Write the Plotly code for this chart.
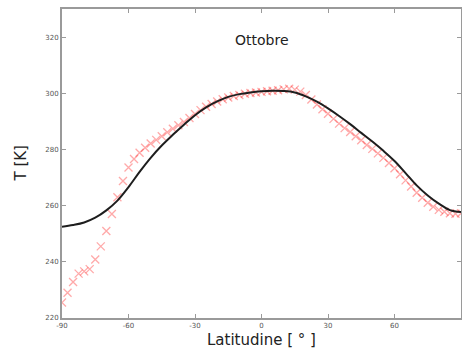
import plotly.graph_objects as go

# Model (black line), 5° spacing
lat_model = [-90, -85, -80, -75, -70, -65, -60, -55, -50, -45, -40, -35, -30, -25, -20, -15, -10, -5,
             0, 5, 10, 15, 20, 25, 30, 35, 40, 45, 50, 55, 60, 65, 70, 75, 80, 85, 90]
t_model = [252.5, 253.1, 254.0, 255.7, 258.3, 261.8, 266.6, 272.0, 277.0, 281.4, 285.2, 288.8, 292.2,
           295.0, 297.1, 298.7, 299.7, 300.3, 300.7, 300.9, 300.8, 300.3, 298.9, 297.0, 294.6, 291.9,
           289.0, 285.9, 282.8, 279.5, 275.9, 271.6, 267.2, 263.6, 260.7, 258.4, 257.7]

# Observations (red crosses), 2.5° spacing
lat_obs = [-90, -87.5, -85, -82.5, -80, -77.5, -75, -72.5, -70, -67.5, -65, -62.5, -60, -57.5, -55,
           -52.5, -50, -47.5, -45, -42.5, -40, -37.5, -35, -32.5, -30, -27.5, -25, -22.5, -20, -17.5,
           -15, -12.5, -10, -7.5, -5, -2.5, 0, 2.5, 5, 7.5, 10, 12.5, 15, 17.5, 20, 22.5, 25, 27.5,
           30, 32.5, 35, 37.5, 40, 42.5, 45, 47.5, 50, 52.5, 55, 57.5, 60, 62.5, 65, 67.5, 70, 72.5,
           75, 77.5, 80, 82.5, 85, 87.5, 90]
t_obs = [225.5, 229.0, 232.8, 235.8, 236.6, 237.4, 240.8, 245.5, 251.0, 257.0, 263.0, 268.8, 273.6,
         276.6, 278.8, 280.6, 282.1, 283.4, 284.7, 286.1, 287.4, 288.6, 289.8, 291.2, 292.6, 294.0,
         295.2, 296.2, 297.1, 297.9, 298.5, 299.0, 299.4, 299.8, 300.1, 300.3, 300.5, 300.7, 300.9,
         301.1, 301.4, 301.6, 301.3, 300.6, 299.4, 297.8, 296.0, 294.3, 292.7, 290.9, 289.2, 287.6,
         286.2, 284.7, 283.3, 281.6, 280.2, 278.6, 277.0, 275.2, 273.3, 271.2, 269.0, 266.8, 264.6,
         262.8, 261.0, 259.6, 258.5, 257.8, 257.3, 257.1, 257.3]

x_ticks = [-90, -60, -30, 0, 30, 60, 90]
y_ticks = [220, 240, 260, 280, 300, 320]

fig = go.Figure()
fig.add_trace(go.Scatter(
    x=lat_obs, y=t_obs, mode="markers",
    marker=dict(symbol="x-thin-open", size=8, color="rgba(255,40,40,0.4)",
                line=dict(color="rgba(255,40,40,0.4)", width=1.3)),
    showlegend=False))
fig.add_trace(go.Scatter(
    x=lat_model, y=t_model, mode="lines", line=dict(color="#1e1e1e", width=2, shape="spline"),
    showlegend=False))

axis_common = dict(showline=True, linecolor="#9a9a9a", linewidth=2, mirror="allticks",
                   ticks="inside", ticklen=4, tickcolor="#9a9a9a", showgrid=False, zeroline=False,
                   automargin=False,
                   tickfont=dict(family="DejaVu Sans", size=7, color="#555555"))
fig.update_xaxes(range=[-90, 90], tickvals=x_ticks, ticktext=[str(v) for v in x_ticks], **axis_common)
fig.update_yaxes(range=[220, 330], tickvals=y_ticks, ticktext=[str(v) for v in y_ticks], **axis_common)

fig.update_layout(
    width=462, height=355,
    margin=dict(l=62, r=1, t=9, b=37),
    plot_bgcolor="white", paper_bgcolor="white",
    font=dict(family="DejaVu Sans"),
    annotations=[
        dict(text="Ottobre", x=0, y=319, xref="x", yref="y", showarrow=False,
             xanchor="center", yanchor="middle",
             font=dict(size=14, color="#222222")),
        dict(text="T [K]", x=0, y=0.5, xref="paper", yref="paper", xshift=-42, textangle=-90,
             xanchor="center", yanchor="middle",
             showarrow=False, font=dict(size=15, color="#222222")),
        dict(text="Latitudine [ ° ]", x=0.5, y=0, xref="paper", yref="paper", yshift=-22,
             xanchor="center", yanchor="middle",
             showarrow=False, font=dict(size=15, color="#222222")),
    ],
)

fig.write_html(
    "out.html",
    config={"displayModeBar": False},
    post_script="document.body.style.margin='0';document.documentElement.style.overflow='hidden';",
)
